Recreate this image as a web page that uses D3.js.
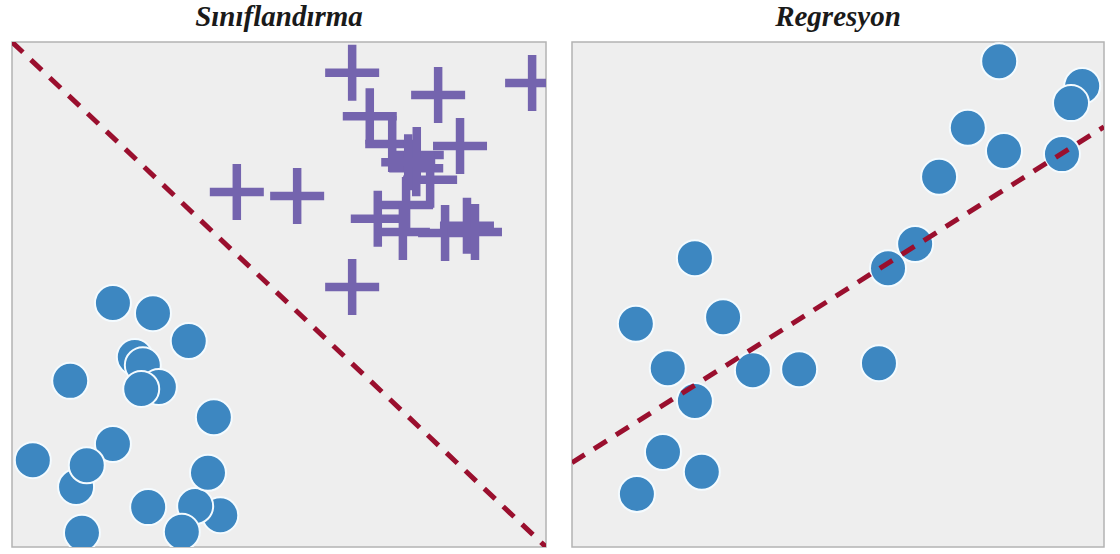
<!DOCTYPE html>
<html>
<head>
<meta charset="utf-8">
<script src="https://cdn.jsdelivr.net/npm/d3@7"></script>
<style>
  body { margin: 0; background: #ffffff; }
  svg { display: block; }
</style>
</head>
<body>
<svg id="chart" width="1120" height="554"></svg>
<script>
// Sınıflandırma - blue class (circles)
const classCirclesX = [1.89, 2.64, 3.31, 2.30, 2.45, 2.75, 2.42, 1.09, 3.78, 1.89, 0.39, 1.20, 1.40, 2.55, 3.90, 3.43, 3.67, 3.18, 1.31];
const classCirclesY = [4.83, 4.63, 4.08, 3.76, 3.60, 3.17, 3.13, 3.29, 2.57, 2.04, 1.72, 1.19, 1.62, 0.79, 0.63, 0.81, 1.47, 0.30, 0.28];

// Sınıflandırma - purple class (crosses)
const classCrossX = [6.37, 7.98, 9.74, 6.70, 4.21, 5.34, 6.37, 8.39, 7.12, 7.58, 7.57, 7.83, 7.38, 6.85, 7.32, 8.11, 8.52, 8.67, 7.42];
const classCrossY = [9.39, 8.95, 9.19, 8.53, 7.03, 6.95, 5.15, 7.94, 7.98, 7.76, 7.50, 7.27, 6.77, 6.50, 6.24, 6.22, 6.36, 6.24, 7.62];

// decision boundary
const boundaryX = [0, 10];
const boundaryY = [10, 0];

// Regresyon points
const regX = [9.59, 9.38, 8.03, 7.44, 8.12, 9.21, 6.90, 6.45, 5.94, 2.31, 1.20, 2.84, 1.80, 2.31, 3.40, 4.27, 5.77, 1.71, 2.44, 1.22];
const regY = [9.13, 8.79, 9.62, 8.30, 7.84, 7.78, 7.33, 6.00, 5.52, 5.72, 4.42, 4.55, 3.54, 2.89, 3.50, 3.52, 3.64, 1.88, 1.49, 1.05];

// regression line
const fitX = [0, 10];
const fitY = [1.67, 8.32];

const titles = ["Sınıflandırma", "Regresyon"];

// Style
const BLUE = "#3d87c1";
const PURPLE = "#7464ae";
const RED = "#9a0f2e";
const PANEL_BG = "#eeeeee";
const R = 18;

const svg = d3.select("#chart");

const panels = [
    {left: 12, right: 546, top: 42, bottom: 547},
    {left: 572, right: 1104, top: 42, bottom: 547}
];

function makePanel(p, title) {
    const x = d3.scaleLinear().domain([0, 10]).range([p.left, p.right]);
    const y = d3.scaleLinear().domain([0, 10]).range([p.bottom, p.top]);

    svg.append("rect")
        .attr("x", p.left)
        .attr("y", p.top)
        .attr("width", p.right - p.left)
        .attr("height", p.bottom - p.top)
        .attr("fill", PANEL_BG)
        .attr("stroke", "#b3b3b3")
        .attr("stroke-width", 1.5);

    svg.append("text")
        .attr("x", (p.left + p.right) / 2)
        .attr("y", 26)
        .attr("text-anchor", "middle")
        .attr("font-family", "'Liberation Serif', 'DejaVu Serif', serif")
        .attr("font-style", "italic")
        .attr("font-weight", "bold")
        .attr("font-size", "29px")
        .attr("fill", "#1a1a1a")
        .text(title);

    const g = svg.append("g");
    g.append("clipPath")
        .attr("id", "clip" + p.left)
        .append("rect")
        .attr("x", p.left)
        .attr("y", p.top)
        .attr("width", p.right - p.left)
        .attr("height", p.bottom - p.top);

    return {x, y, g: g.append("g").attr("clip-path", `url(#clip${p.left})`)};
}

////////// Left panel //////////
const L = makePanel(panels[0], titles[0]);

L.g.selectAll("circle")
    .data(d3.zip(classCirclesX, classCirclesY))
    .enter().append("circle")
    .attr("cx", d => L.x(d[0]))
    .attr("cy", d => L.y(d[1]))
    .attr("r", R)
    .attr("fill", BLUE)
    .attr("stroke", "#f4fbff")
    .attr("stroke-width", 2);

L.g.selectAll("path.cross")
    .data(d3.zip(classCrossX, classCrossY))
    .enter().append("path")
    .attr("class", "cross")
    .attr("d", d => {
        const cx = L.x(d[0]), cy = L.y(d[1]);
        return `M${cx - 27},${cy}H${cx + 27}M${cx},${cy - 28}V${cy + 28}`;
    })
    .attr("fill", "none")
    .attr("stroke", PURPLE)
    .attr("stroke-width", 8.5);

L.g.append("path")
    .datum(d3.zip(boundaryX, boundaryY))
    .attr("d", d3.line().x(d => L.x(d[0])).y(d => L.y(d[1])))
    .attr("fill", "none")
    .attr("stroke", RED)
    .attr("stroke-width", 5)
    .attr("stroke-dasharray", "15,11");

////////// Right panel //////////
const Rp = makePanel(panels[1], titles[1]);

Rp.g.selectAll("circle")
    .data(d3.zip(regX, regY))
    .enter().append("circle")
    .attr("cx", d => Rp.x(d[0]))
    .attr("cy", d => Rp.y(d[1]))
    .attr("r", R)
    .attr("fill", BLUE)
    .attr("stroke", "#f4fbff")
    .attr("stroke-width", 2);

Rp.g.append("path")
    .datum(d3.zip(fitX, fitY))
    .attr("d", d3.line().x(d => Rp.x(d[0])).y(d => Rp.y(d[1])))
    .attr("fill", "none")
    .attr("stroke", RED)
    .attr("stroke-width", 5)
    .attr("stroke-dasharray", "15,11");
</script>
</body>
</html>
